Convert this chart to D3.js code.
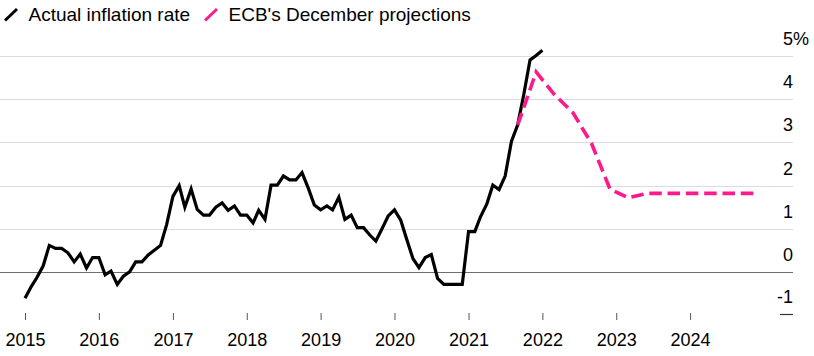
<!DOCTYPE html>
<html>
<head>
<meta charset="utf-8">
<script src="https://cdn.jsdelivr.net/npm/d3@7"></script>
<style>
  html, body { margin: 0; padding: 0; background: #fff; }
  svg { display: block; font-family: "Liberation Sans", Arial, Helvetica, sans-serif; }
</style>
</head>
<body>
<svg id="chart" width="814" height="356"></svg>
<script>
// ---- Data ----
const actualStart = "2015-01";  // first month of the actual series (monthly)
const actualValues = [
  -0.6, -0.33, -0.12, 0.15, 0.62, 0.55, 0.55, 0.45, 0.24, 0.42, 0.1, 0.34,   // 2015
  0.34, -0.06, 0.03, -0.28, -0.09, 0.01, 0.24, 0.24, 0.4, 0.51, 0.62, 1.1,   // 2016
  1.75, 2.0, 1.5, 1.92, 1.45, 1.32, 1.32, 1.5, 1.6, 1.43, 1.53, 1.32,        // 2017
  1.32, 1.14, 1.43, 1.22, 2.01, 2.01, 2.22, 2.13, 2.13, 2.3, 1.94, 1.55,     // 2018
  1.44, 1.53, 1.44, 1.73, 1.22, 1.32, 1.03, 1.03, 0.86, 0.72, 1.01, 1.3,     // 2019
  1.44, 1.2, 0.77, 0.32, 0.11, 0.34, 0.41, -0.14, -0.28, -0.28, -0.28, -0.28,// 2020
  0.94, 0.94, 1.28, 1.57, 2.01, 1.91, 2.22, 3.02, 3.4, 4.1, 4.9, 5.0,        // 2021
  5.12                                                                       // 2022
];
const projectionDates = [
  "2021-09", "2021-12", "2022-03", "2022-06", "2022-09", "2022-12", "2023-03",
  "2023-06", "2023-09", "2023-12", "2024-03", "2024-06", "2024-09", "2024-12"
];
const projectionValues = [3.4, 4.62, 4.1, 3.68, 2.97, 1.92, 1.72, 1.82, 1.82, 1.82, 1.82, 1.82, 1.82, 1.82];
const yearTicks = [2015, 2016, 2017, 2018, 2019, 2020, 2021, 2022, 2023, 2024];
const yTickValues = [-1, 0, 1, 2, 3, 4, 5];
const yTickLabels = ["-1", "0", "1", "2", "3", "4", "5"];
const yTickSuffix = ["", "", "", "", "", "", "%"];
const legendLabels = ["Actual inflation rate", "ECB's December projections"];
const seriesColors = ["#000000", "#ff1a8c"];

// ---- Build ----
const parseMonth = d3.utcParse("%Y-%m");
const start = parseMonth(actualStart);
const actual = actualValues.map((v, i) => ({ date: d3.utcMonth.offset(start, i), value: v }));
const projection = projectionDates.map((d, i) => ({ date: parseMonth(d), value: projectionValues[i] }));

const svg = d3.select("#chart");

const x = d3.scaleUtc()
  .domain([new Date(Date.UTC(2015, 0, 1)), new Date(Date.UTC(2024, 0, 1))])
  .range([25, 690.1]);
const y = d3.scaleLinear().domain([0, 5]).range([272.3, 55.5]);

const gridRight = 793;

// gridlines
svg.append("g").selectAll("line")
  .data(yTickValues.filter(v => v > 0))
  .join("line")
  .attr("x1", 0).attr("x2", gridRight)
  .attr("y1", d => Math.round(y(d)) + 0.5).attr("y2", d => Math.round(y(d)) + 0.5)
  .attr("stroke", "#dcdcdc").attr("stroke-width", 1);

// zero line
svg.append("line")
  .attr("x1", 0).attr("x2", gridRight)
  .attr("y1", Math.round(y(0)) + 0.5).attr("y2", Math.round(y(0)) + 0.5)
  .attr("stroke", "#6e6e6e").attr("stroke-width", 1.2);

// -1 short dash
svg.append("line")
  .attr("x1", 780).attr("x2", gridRight)
  .attr("y1", Math.round(y(-1)) - 2 + 0.5).attr("y2", Math.round(y(-1)) - 2 + 0.5)
  .attr("stroke", "#333").attr("stroke-width", 1.2);

// y labels
const yl = svg.append("g").attr("font-size", 18).attr("fill", "#000");
yTickValues.forEach((v, i) => {
  const yy = y(v) - 11 - (v === -1 ? 2 : 0);
  yl.append("text").attr("x", gridRight).attr("y", yy)
    .attr("text-anchor", "end").text(yTickLabels[i]);
  if (yTickSuffix[i]) {
    yl.append("text").attr("x", gridRight).attr("y", yy)
      .attr("text-anchor", "start").text(yTickSuffix[i]);
  }
});

// x axis
const xAxis = d3.axisBottom(x)
  .tickValues(yearTicks.map(yr => new Date(Date.UTC(yr, 0, 1))))
  .tickFormat(d3.utcFormat("%Y"))
  .tickSize(7)
  .tickPadding(13);
const gx = svg.append("g").attr("transform", "translate(0,313)").call(xAxis);
gx.select(".domain").remove();
gx.selectAll(".tick line").attr("stroke", "#555").attr("stroke-width", 1);
gx.selectAll(".tick text")
  .attr("font-size", 18)
  .attr("font-family", "'Liberation Sans', Arial, sans-serif")
  .attr("fill", "#000");

// lines
const line = d3.line().x(d => x(d.date)).y(d => y(d.value));
svg.append("path").datum(actual)
  .attr("d", line)
  .attr("fill", "none")
  .attr("stroke", seriesColors[0])
  .attr("stroke-width", 3.2)
  .attr("stroke-linejoin", "miter");

svg.append("path").datum(projection)
  .attr("d", line)
  .attr("fill", "none")
  .attr("stroke", seriesColors[1])
  .attr("stroke-width", 3.6)
  .attr("stroke-dasharray", "12.5,5.8");

// legend
const legend = svg.append("g");
const legendX = [5, 205];
legendLabels.forEach((lab, i) => {
  legend.append("line")
    .attr("x1", legendX[i]).attr("y1", 20.5)
    .attr("x2", legendX[i] + 12).attr("y2", 9)
    .attr("stroke", seriesColors[i]).attr("stroke-width", 3);
  legend.append("text")
    .attr("x", legendX[i] + 23.5).attr("y", 21)
    .attr("font-size", 19).attr("fill", "#000")
    .text(lab);
});
</script>
</body>
</html>
